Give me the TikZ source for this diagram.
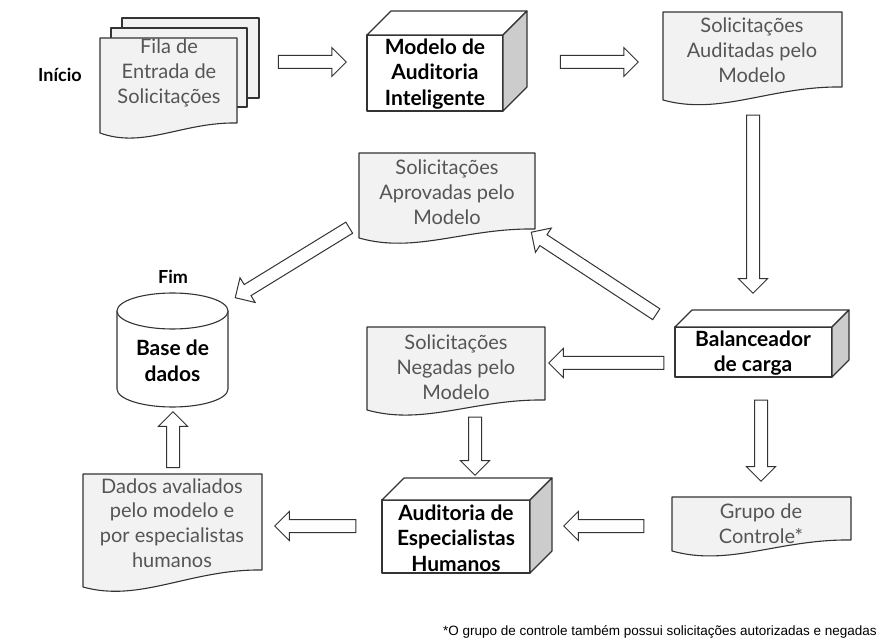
\documentclass[tikz,border=0pt]{standalone}
\usepackage{fontspec}
\setmainfont{Lato}
\newfontfamily\footfont{Liberation Sans}
\usetikzlibrary{shapes.arrows,calc}
\definecolor{docfill}{HTML}{F2F2F2}
\definecolor{doctext}{HTML}{555555}
\definecolor{edge}{HTML}{333333}
\definecolor{sidegray}{HTML}{CCCCCC}
\tikzset{
  docsty/.style={draw=edge, fill=docfill, line width=1.1pt, line join=round},
  boxsty/.style={draw=edge, fill=white, line width=1.1pt, line join=round},
  sidesty/.style={draw=edge, fill=sidegray, line width=1.1pt, line join=round},
  doclabel/.style={align=center, inner sep=0pt, text=doctext, font=\fontsize{20}{24.8}\selectfont},
  boxlabel/.style={align=center, inner sep=0pt, text=black, font=\bfseries\fontsize{21}{25.5}\selectfont},
  titlelabel/.style={inner sep=0pt, text=black, font=\bfseries\fontsize{18}{22}\selectfont},
  blockarrow/.style={single arrow, draw=edge, fill=white, line width=1pt, inner sep=6pt,
    single arrow head extend=8pt, single arrow tip angle=90, outer sep=0pt},
}
\newcommand\docshape[5]{% x0, y0, x1, y-right-bottom, y-left-bottom
  \pgfmathsetmacro\dA{#3-0.4*(#3-#1)}
  \pgfmathsetmacro\dB{#1+0.32*(#3-#1)}
  \draw[docsty] (#1,#2) -- (#3,#2) -- (#3,#4) .. controls (\dA,#4-1) and (\dB,#5+16) .. (#1,#5) -- cycle;
}
\newcommand\cuboid[5]{% x0, y0, x1, y1, depth
  \draw[boxsty] (#1,#2) rectangle (#3,#4);
  \draw[boxsty] (#1,#2) -- (#1+#5,#2-#5) -- (#3+#5,#2-#5) -- (#3,#2) -- cycle;
  \draw[sidesty] (#3,#2) -- (#3+#5,#2-#5) -- (#3+#5,#4-#5) -- (#3,#4) -- cycle;
}
\newcommand\barrow[3]{% name, from, to
  \path let \p1=(#2), \p2=(#3),
    \n1={atan2(\y2-\y1,\x2-\x1)}, \n2={veclen(\x2-\x1,\y2-\y1)} in
    node[blockarrow, minimum height=\n2, rotate=\n1] (#1) at ($(\p1)!0.5!(\p2)$) {};
}
\begin{document}
\begin{tikzpicture}[x=1pt, y=-1pt]
\useasboundingbox (0,0) rectangle (879,644);

% --- shapes ---
\draw[docsty] (122,18) rectangle (259,98);
\draw[docsty] (111,28) rectangle (247,107);
\docshape{100}{38}{237}{123}{133}
\cuboid{367}{35}{503}{111}{24}
\docshape{663}{12}{842}{87}{100}
\docshape{359}{153}{535}{229}{238}
\cuboid{675}{327}{832}{377}{17}
\docshape{367}{327}{545}{400}{410}
\cuboid{382}{500}{530}{573}{22}
\docshape{672}{497}{851}{540}{551}
\docshape{83}{474}{262}{570}{587}
% cylinder
\draw[boxsty] (117,311) -- (117,389) arc[start angle=180, end angle=360, x radius=55.5pt, y radius=18pt] -- (228,311);
\draw[boxsty] (172.5,311) ellipse[x radius=55.5pt, y radius=18pt];

% --- labels ---
\node[titlelabel] (inicio) at (60,75) {Início};
\node[titlelabel] (fim) at (173,277) {Fim};
\node[doclabel] (fila) at (169,73) {Fila de\\Entrada de\\Solicitações};
\node[boxlabel] (modelo) at (435,74) {Modelo de\\Auditoria\\Inteligente};
\node[doclabel] (auditadas) at (752,50) {Solicitações\\Auditadas pelo\\Modelo};
\node[doclabel] (aprovadas) at (447,192) {Solicitações\\Aprovadas pelo\\Modelo};
\node[boxlabel] (base) at (172.5,361) {Base de\\dados};
\node[boxlabel] (balanc) at (753,353) {Balanceador\\de carga};
\node[doclabel] (negadas) at (456,367) {Solicitações\\Negadas pelo\\Modelo};
\node[boxlabel] (especialistas) at (456,538) {Auditoria de\\Especialistas\\Humanos};
\node[doclabel] (grupo) at (761,524) {Grupo de\\Controle*};
\node[doclabel] (dados) at (172,523) {Dados avaliados\\pelo modelo e\\por especialistas\\humanos};
\node[inner sep=0pt, anchor=east, font=\footfont\fontsize{13.5}{16}\selectfont] (nota) at (877,632)
  {*O grupo de controle também possui solicitações autorizadas e negadas};

% --- block arrows ---
\coordinate (a1s) at (275,62);  \coordinate (a1e) at (343,62);
\coordinate (a2s) at (557,62);  \coordinate (a2e) at (635,62);
\coordinate (a3s) at (753,112); \coordinate (a3e) at (753,290);
\coordinate (a4s) at (659,316); \coordinate (a4e) at (534,234);
\coordinate (a5s) at (352,226); \coordinate (a5e) at (238,296);
\coordinate (a6s) at (667,363); \coordinate (a6e) at (552,363);
\coordinate (a7s) at (475,414); \coordinate (a7e) at (475,472);
\coordinate (a8s) at (761,397); \coordinate (a8e) at (761,478);
\coordinate (a9s) at (647,526); \coordinate (a9e) at (567,526);
\coordinate (a10s) at (359,526); \coordinate (a10e) at (278,526);
\coordinate (a11s) at (173,471); \coordinate (a11e) at (173,415);
\barrow{fila-modelo}{a1s}{a1e}
\barrow{modelo-auditadas}{a2s}{a2e}
\barrow{auditadas-balanc}{a3s}{a3e}
\barrow{balanc-aprovadas}{a4s}{a4e}
\barrow{aprovadas-base}{a5s}{a5e}
\barrow{balanc-negadas}{a6s}{a6e}
\barrow{negadas-especialistas}{a7s}{a7e}
\barrow{balanc-grupo}{a8s}{a8e}
\barrow{grupo-especialistas}{a9s}{a9e}
\barrow{especialistas-dados}{a10s}{a10e}
\barrow{dados-base}{a11s}{a11e}
\end{tikzpicture}
\end{document}
